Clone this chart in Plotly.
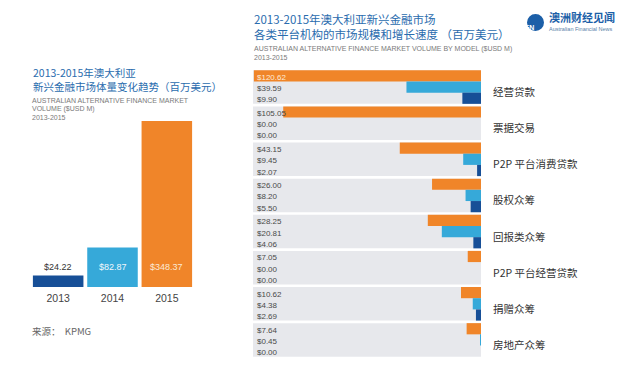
import plotly.graph_objects as go

# ---------------- data ----------------
years = [2013, 2014, 2015]
total_volume = [24.22, 82.87, 348.37]

models = ["经营贷款", "票据交易", "P2P 平台消费贷款", "股权众筹", "回报类众筹",
          "P2P 平台经营贷款", "捐赠众筹", "房地产众筹"]
vol_2015 = [120.62, 105.05, 43.15, 26.00, 28.25, 7.05, 10.62, 7.64]
vol_2014 = [39.59, 0.00, 9.45, 8.20, 20.81, 0.00, 4.38, 0.45]
vol_2013 = [9.90, 0.00, 2.07, 5.50, 4.06, 0.00, 2.69, 0.00]

# ---------------- style ----------------
W, H = 640, 386
C13, C14, C15 = "#174f97", "#36a9d9", "#f08529"
BLUE_T = "#2a6cae"
GREY_T = "#7a7a7a"
SANS = "Noto Sans CJK SC, Noto Sans, sans-serif"
LAT = "Liberation Sans, Arial, sans-serif"


def px_x(x):
    return x / W


def px_y(y):
    return 1 - y / H


fig = go.Figure()

# left chart
fig.add_trace(go.Bar(x=years, y=total_volume, marker_color=[C13, C14, C15],
                     marker_line_width=0, width=0.93, xaxis="x", yaxis="y"))

# right chart (top row 2015, then 2014, then 2013)
for vals, col, name in [(vol_2015, C15, "2015"), (vol_2014, C14, "2014"), (vol_2013, C13, "2013")]:
    fig.add_trace(go.Bar(y=models, x=vals, orientation="h", marker_color=col,
                         marker_line_width=0, name=name, xaxis="x2", yaxis="y2"))

ann = []
shapes = []

# left value labels
lbl_colors = ["#333333", "#f2f7fb", "#fbe9d6"]
for yr, v, c in zip(years, total_volume, lbl_colors):
    ann.append(dict(x=yr, y=42, xref="x", yref="y", text=f"${v:.2f}", showarrow=False,
                    font=dict(family=LAT, size=9, color=c)))

# right bands and value labels
row_shift = [11.2, 0, -11.2]
for i, m in enumerate(models):
    shapes.append(dict(type="rect", xref="x2 domain", yref="y2", x0=0, x1=1,
                       y0=i - 0.465, y1=i + 0.465, fillcolor="#e7e8ec", line_width=0,
                       layer="below"))
    for j, vals in enumerate([vol_2015, vol_2014, vol_2013]):
        v = vals[i]
        col = "#fdebd8" if v > 112 else "#4a4a4a"
        ann.append(dict(x=px_x(255), y=m, xref="paper", yref="y2", xanchor="left",
                        yshift=row_shift[j] - 1.5, text=f"${v:.2f}", showarrow=False,
                        font=dict(family=LAT, size=8, color=col)))
    ann.append(dict(x=px_x(491), y=m, xref="paper", yref="y2", xanchor="left",
                    yshift=-4.5, text=m, showarrow=False,
                    font=dict(family=SANS, size=10.5, color="#333333")))


def text(x, y, s, size, color, family=SANS):
    ann.append(dict(x=px_x(x), y=px_y(y), xref="paper", yref="paper", xanchor="left",
                    yanchor="middle", align="left", text=s, showarrow=False,
                    font=dict(family=family, size=size, color=color)))


# left titles
text(31, 79.5, "2013-2015年澳大利亚<br>新兴金融市场体量变化趋势（百万美元）", 10.5, BLUE_T)
text(30, 100.5, "AUSTRALIAN ALTERNATIVE FINANCE MARKET", 7, GREY_T, LAT)
text(30, 109.2, "VOLUME ($USD M)", 7, GREY_T, LAT)
text(30, 117.9, "2013-2015", 7, GREY_T, LAT)
text(30, 331, "来源：  KPMG", 9.5, "#666666")

# right titles
text(252, 26.5, "2013-2015年澳大利亚新兴金融市场<br>各类平台机构的市场规模和增长速度 （百万美元）", 11.5, BLUE_T)
text(252, 48.5, "AUSTRALIAN ALTERNATIVE FINANCE MARKET VOLUME BY MODEL ($USD M)", 7, GREY_T, LAT)
text(252, 57.2, "2013-2015", 7, GREY_T, LAT)

# logo
shapes.append(dict(type="circle", xref="paper", yref="paper", x0=px_x(527), x1=px_x(544),
                   y0=px_y(31), y1=px_y(14), fillcolor="#1c5fa8", line_width=0))
ann.append(dict(x=px_x(535.5), y=px_y(22.5), xref="paper", yref="paper", text="<b>AFN</b>",
                showarrow=False, font=dict(family=LAT, size=7, color="white")))
text(547, 16.5, "<b>澳洲财经见闻</b>", 11, "#1c5fa8")
text(547, 28.5, "Australian Financial News", 5.5, "#5a7fa8", LAT)

fig.update_layout(
    width=W, height=H, margin=dict(l=0, r=0, t=0, b=0),
    paper_bgcolor="white", plot_bgcolor="rgba(0,0,0,0)",
    showlegend=False, barmode="group", bargap=0.07, bargroupgap=0,
    annotations=ann, shapes=shapes,
    xaxis=dict(domain=[px_x(31), px_x(194)], range=[2012.5, 2015.5], tickvals=years,
               ticktext=[str(y) for y in years], showgrid=False, zeroline=False,
               showline=False, ticks="", ticklabelstandoff=3,
               tickfont=dict(family=LAT, size=10.5, color="#444444"),
               anchor="y", fixedrange=True),
    yaxis=dict(domain=[px_y(287), px_y(115.5)], range=[0, 360], visible=False, anchor="x",
               fixedrange=True),
    xaxis2=dict(domain=[px_x(253), px_x(481)], range=[121.1, 0], visible=False, anchor="y2",
                fixedrange=True),
    yaxis2=dict(domain=[px_y(358), px_y(69)], type="category", categoryorder="array",
                categoryarray=models, range=[7.5, -0.5], visible=False, anchor="x2",
                fixedrange=True),
)

fig.write_html("out.html", config={"displayModeBar": False},
               post_script="document.body.style.margin='0px';")
